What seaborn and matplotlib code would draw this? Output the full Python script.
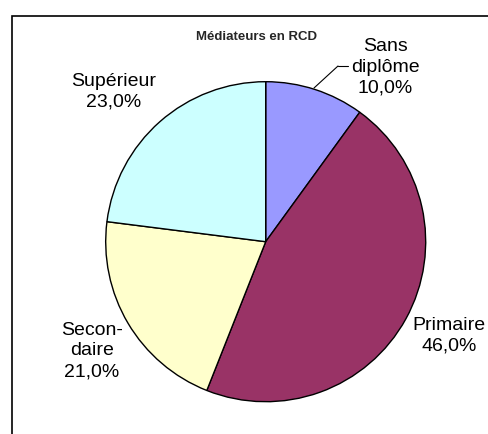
import matplotlib
matplotlib.use("Agg")
import matplotlib.pyplot as plt
from matplotlib.patches import Rectangle
import seaborn as sns

# ---- data ----
categories = ["Sans\ndiplôme", "Primaire", "Secon-\ndaire", "Supérieur"]
values = [10.0, 46.0, 21.0, 23.0]
colors = ["#9999FF", "#993366", "#FFFFCC", "#CCFFFF"]
title = "Médiateurs en RCD"

sns.set_theme(style="white")
plt.rcParams["font.family"] = ["Liberation Sans", "DejaVu Sans"]

W, H = 488, 434
fig = plt.figure(figsize=(W / 100, H / 100), dpi=100)
fig.patch.set_facecolor("white")

# pie placement in pixels
cx, cy, r = 265.7, 241.7, 160.0
ax = fig.add_axes([(cx - r) / W, (H - cy - r) / H, 2 * r / W, 2 * r / H])

wedges, _ = ax.pie(values, colors=colors, startangle=90, counterclock=False,
                   radius=1.0, wedgeprops=dict(edgecolor="black", linewidth=1.0))
ax.set_xlim(-1, 1)
ax.set_ylim(-1, 1)
ax.set_aspect("equal")
ax.axis("off")

def fmt(v):
    return f"{v:.1f}".replace(".", ",") + "%"

# label positions (pixels, center of text block)
label_px = [(385, 67), (449, 336), (92, 351), (114, 92)]
for cat, v, (px, py) in zip(categories, values, label_px):
    ax.text((px - cx) / r, (cy - py) / r, f"{cat}\n{fmt(v)}", ha="center", va="center",
            fontsize=14, color="black", linespacing=1.3, clip_on=False)

# leader line for small slice
ax.plot([(338 - cx) / r, (348 - cx) / r], [(cy - 66) / r, (cy - 66) / r], color="black", lw=0.8,
        clip_on=False)
ax.plot([(314 - cx) / r, (338 - cx) / r], [(cy - 88) / r, (cy - 66) / r], color="black", lw=0.8,
        clip_on=False)

fig.text(257 / W, 1 - 37 / H, title, ha="center", va="center", fontsize=9.5, fontweight="bold")

fig.add_artist(Rectangle((12 / W, -0.1), 1.2, 1 - 16 / H + 0.1, transform=fig.transFigure,
                         fill=False, edgecolor="black", linewidth=1.2))

fig.savefig("out.png", dpi=100)
